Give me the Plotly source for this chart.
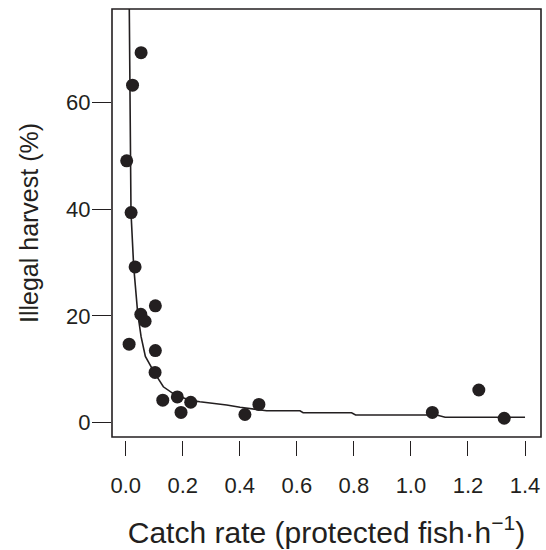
import plotly.graph_objects as go

# Observed sites: catch rate of protected fish vs. share of illegal harvest
catch_rate = [0.054, 0.024, 0.0035, 0.019, 0.033, 0.053, 0.068, 0.104, 0.012,
              0.104, 0.103, 0.130, 0.181, 0.194, 0.228, 0.418, 0.467, 1.075,
              1.238, 1.327]
illegal_pct = [69.4, 63.3, 49.1, 39.4, 29.2, 20.3, 19.0, 21.9, 14.7,
               13.5, 9.4, 4.2, 4.8, 1.9, 3.8, 1.5, 3.4, 1.9,
               6.1, 0.8]

# Fitted relationship
fit_x = [0.0126, 0.0186, 0.028, 0.042, 0.054, 0.069, 0.100, 0.132, 0.173,
         0.225, 0.260, 0.307, 0.354, 0.401, 0.447, 0.494, 0.611, 0.622,
         0.792, 0.806, 1.090, 1.120, 1.400]
fit_y = [77.6, 39.4, 29.3, 20.6, 16.1, 12.4, 9.4, 6.7, 5.2,
         4.2, 3.9, 3.6, 3.3, 2.85, 2.5, 2.2, 2.2, 1.84,
         1.84, 1.41, 1.41, 0.98, 0.98]

x_ticks = [0.0, 0.2, 0.4, 0.6, 0.8, 1.0, 1.2, 1.4]
x_tick_text = ["0.0", "0.2", "0.4", "0.6", "0.8", "1.0", "1.2", "1.4"]
y_ticks = [0, 20, 40, 60]

INK = "#231f20"
FONT = "Liberation Sans, Arial, sans-serif"

fig = go.Figure()
fig.add_trace(go.Scatter(x=fit_x, y=fit_y, mode="lines",
                         line=dict(color=INK, width=1.6), hoverinfo="skip",
                         showlegend=False))
fig.add_trace(go.Scatter(x=catch_rate, y=illegal_pct, mode="markers",
                         marker=dict(size=13, color=INK, line=dict(width=0)),
                         showlegend=False))

# frame around the plotting region
fig.add_shape(type="rect", xref="x domain", yref="y domain",
              x0=0, x1=1, y0=0, y1=1, line=dict(color=INK, width=1.6),
              layer="above")

fig.update_layout(
    width=546, height=550,
    margin=dict(l=112, r=5, t=9, b=110),
    paper_bgcolor="white", plot_bgcolor="white",
    font=dict(family=FONT, color=INK),
    xaxis=dict(range=[-0.048, 1.456], tickvals=x_ticks, ticktext=x_tick_text,
               ticks="outside", ticklen=15, tickwidth=1.4, tickcolor=INK,
               showgrid=False, zeroline=False, showline=False,
               anchor="free", position=0, ticklabelstandoff=11,
               tickfont=dict(size=22, family=FONT, color=INK),
               title=dict(text="Catch rate (protected fish·h<sup>−1</sup>)",
                          font=dict(size=30, family=FONT, color=INK),
                          standoff=24)),
    yaxis=dict(range=[-2.72, 77.6], tickvals=y_ticks, domain=[3 / 431, 1],
               ticks="outside", ticklen=19, tickwidth=1.4, tickcolor=INK,
               showgrid=False, zeroline=False, showline=False,
               ticklabelstandoff=-3,
               tickfont=dict(size=22, family=FONT, color=INK),
               title=dict(text="Illegal harvest (%)",
                          font=dict(size=25, family=FONT, color=INK),
                          standoff=20)),
)

fig.write_html("out.html")
